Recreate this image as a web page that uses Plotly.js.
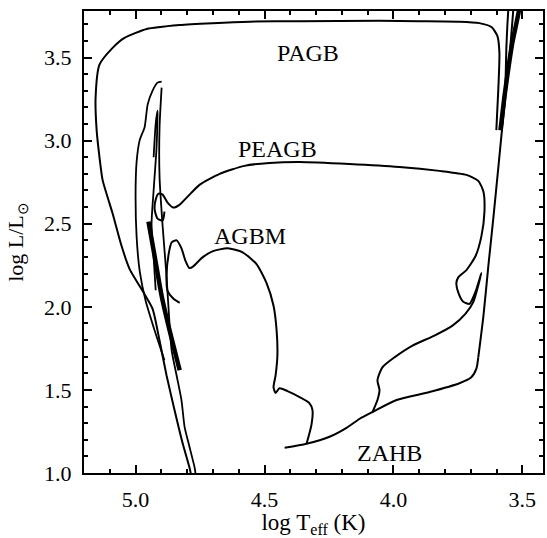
<!DOCTYPE html>
<html>
<head>
<meta charset="utf-8">
<script src="https://cdn.plot.ly/plotly-3.0.1.min.js"></script>
<style>html,body{margin:0;padding:0;background:#fff;}</style>
</head>
<body>
<div id="chart" style="width:547px;height:538px;"></div>
<script>
// Post-AGB track (outermost)
const pagbT = [3.601,3.593,3.589,3.597,3.620,3.667,3.744,3.899,4.054,4.364,4.558,4.702,4.829,4.957,5.043,5.089,5.140,5.155,5.151,5.140,5.128,5.089,5.054,5.023,4.973,4.934,4.907,4.880,4.849,4.818,4.791,4.785];
const pagbL = [3.063,3.319,3.528,3.630,3.684,3.707,3.716,3.719,3.721,3.719,3.716,3.707,3.696,3.672,3.618,3.558,3.457,3.260,3.063,2.901,2.764,2.561,2.364,2.227,2.096,1.988,1.797,1.588,1.379,1.182,1.033,0.99];
// Post-early-AGB track
const peagbT = [4.081,4.062,4.054,4.062,4.043,3.996,3.926,3.841,3.771,3.721,3.690,3.659,3.682,3.705,3.729,3.748,3.756,3.748,3.717,3.682,3.659,3.647,3.651,3.671,3.717,3.822,3.977,4.171,4.364,4.481,4.578,4.674,4.752,4.798,4.829,4.853,4.876,4.895,4.911,4.922,4.926,4.915,4.895,4.888];
const peagbL = [1.367,1.439,1.499,1.558,1.636,1.696,1.767,1.827,1.887,1.958,2.030,2.203,2.090,2.018,2.030,2.084,2.143,2.179,2.221,2.304,2.424,2.573,2.693,2.758,2.794,2.818,2.842,2.860,2.872,2.866,2.848,2.800,2.734,2.663,2.615,2.597,2.627,2.675,2.681,2.645,2.585,2.531,2.519,2.573];
// AGB-manqué track
const agbmT = [4.337,4.318,4.314,4.326,4.364,4.411,4.442,4.457,4.465,4.457,4.450,4.453,4.465,4.492,4.531,4.585,4.643,4.702,4.744,4.775,4.791,4.806,4.822,4.841,4.860,4.872,4.880,4.876,4.853,4.829];
const agbmL = [1.176,1.290,1.379,1.421,1.457,1.493,1.510,1.481,1.516,1.588,1.707,1.857,2.006,2.143,2.257,2.328,2.352,2.334,2.293,2.245,2.233,2.275,2.352,2.400,2.388,2.316,2.185,2.096,2.048,2.024];
// Zero-age horizontal branch
const zahbT = [4.422,4.337,4.248,4.182,4.132,4.081,3.988,3.860,3.744,3.698,3.678,3.671];
const zahbL = [1.152,1.176,1.218,1.272,1.325,1.367,1.439,1.487,1.540,1.576,1.630,1.696];
// Giant branch
const rgbT = [3.671,3.651,3.632,3.612,3.593,3.578,3.562,3.547,3.535];
const rgbL = [1.696,1.946,2.245,2.543,2.842,3.081,3.319,3.558,3.791];
const agbT = [3.585,3.570,3.554,3.539,3.523,3.512];
const agbL = [3.063,3.260,3.439,3.588,3.707,3.791];
const agb2T = [3.578,3.566,3.562,3.558,3.554];
const agb2L = [3.100,3.330,3.560,3.700,3.800];
// Blue loops and white-dwarf cooling tracks
const loopT = [4.899,4.915,4.934,4.953,4.965,4.984,4.996,5.000,4.996,4.984,4.961,4.926,4.888];
const loopL = [3.355,3.349,3.301,3.218,3.081,3.003,2.872,2.663,2.424,2.215,2.036,1.857,1.678];
const coolT = [4.899,4.907,4.907,4.895,4.880,4.868,4.860,4.841,4.822,4.810,4.791,4.771,4.767];
const coolL = [3.319,3.081,2.782,2.484,2.185,1.887,1.737,1.588,1.439,1.278,1.158,1.033,0.99];
const loop2T = [4.930,4.922,4.915,4.915,4.919,4.930,4.938,4.930,4.922];
const loop2L = [2.900,3.100,3.180,3.150,2.950,2.700,2.500,2.300,2.100];
const thickT = [4.950,4.926,4.899,4.868,4.829];
const thickL = [2.513,2.304,2.066,1.857,1.618];

const labelText = ['PAGB','PEAGB','AGBM','ZAHB'];
const labelT = [4.333,4.450,4.558,4.016];
const labelL = [3.528,2.949,2.424,1.122];

function line(x, y, w) {
  return {x: x, y: y, type: 'scatter', mode: 'lines', line: {color: '#000', width: w, shape: 'spline', smoothing: 0.6}, hoverinfo: 'skip', showlegend: false};
}

const data = [
  line(pagbT, pagbL, 2),
  line(peagbT, peagbL, 2),
  line(agbmT, agbmL, 2),
  line(zahbT, zahbL, 2),
  line(rgbT, rgbL, 2),
  line(agbT, agbL, 4.5),
  line(agb2T, agb2L, 2),
  line(loopT, loopL, 1.8),
  line(coolT, coolL, 1.8),
  line(loop2T, loop2L, 1.8),
  line(thickT, thickL, 4.5)
];

const font = 'Liberation Serif, Times New Roman, serif';
const axisCommon = {
  ticks: 'inside', ticklen: 8, tickwidth: 2, tickcolor: '#000',
  showline: true, linewidth: 2, linecolor: '#000', mirror: 'ticks',
  showgrid: false, zeroline: false, tickformat: '.1f',
  tickfont: {family: font, size: 22, color: '#000'},
  minor: {dtick: 0.1, ticks: 'inside', ticklen: 4, tickwidth: 2, tickcolor: '#000', showgrid: false}
};

const layout = {
  width: 547, height: 538,
  margin: {l: 84, r: 4, t: 11, b: 65},
  paper_bgcolor: '#fff', plot_bgcolor: '#fff',
  showlegend: false,
  xaxis: Object.assign({}, axisCommon, {
    range: [5.2, 3.42], dtick: 0.5, tick0: 0,
    ticklabelstandoff: 6,
    title: {text: 'log T<sub>eff</sub> (K)', font: {family: font, size: 23, color: '#000'}, standoff: 7}
  }),
  yaxis: Object.assign({}, axisCommon, {
    range: [1.0, 3.78], dtick: 0.5, tick0: 0,
    ticklabelstandoff: 6,
    title: {text: 'log L/L<sub>⊙</sub>', font: {family: font, size: 22, color: '#000'}, standoff: 14}
  }),
  annotations: labelText.map((t, i) => ({
    x: labelT[i], y: labelL[i], xref: 'x', yref: 'y', text: t, showarrow: false,
    font: {family: font, size: 24, color: '#000'}
  }))
};

Plotly.newPlot('chart', data, layout, {displayModeBar: false, staticPlot: true});
</script>
</body>
</html>
